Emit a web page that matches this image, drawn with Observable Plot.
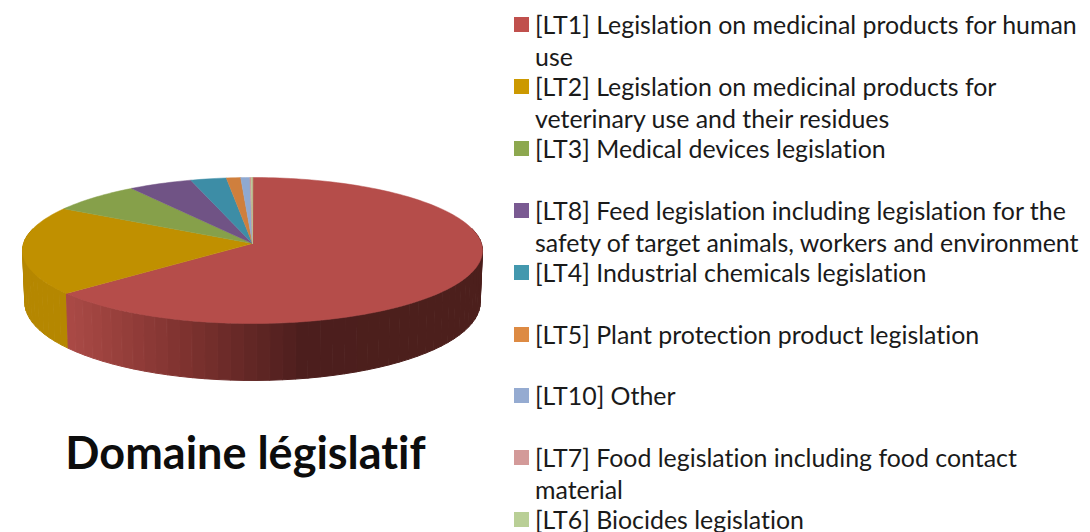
<!DOCTYPE html>
<html><head><meta charset="utf-8">
<script src="https://cdn.jsdelivr.net/npm/d3@7"></script>
<script src="https://cdn.jsdelivr.net/npm/@observablehq/plot@0.6"></script>
<style>
html,body{margin:0;padding:0;background:#fff;width:1090px;height:532px;overflow:hidden}
#page{position:relative;width:1090px;height:532px;font-family:Lato,sans-serif;color:#1a1a1a;font-variant-ligatures:none;font-feature-settings:"liga" 0}
#chart{position:absolute;left:0;top:0;filter:blur(0.6px)}
#title{position:absolute;left:0;width:491px;top:424px;text-align:center;font-size:45px;line-height:56px;font-weight:700;color:#0d0d0d}
#legend{position:absolute;left:514px;top:8.3px;width:576px}
.item{height:61.85px;position:relative;padding-left:21px;font-size:24.9px;line-height:32px;white-space:nowrap}
.item:last-child{height:24px;margin-top:3.5px;line-height:24px}
.item:last-child .sw{top:5px}
.sw{position:absolute;left:0;top:9px;width:15px;height:15px}
</style></head><body>
<div id="page"><div id="chart"></div><div id="title"></div><div id="legend"></div></div>
<script>
const categories = ["LT1","LT2","LT3","LT8","LT4","LT5","LT10","LT7","LT6"];
const shares = [63.8,19.6,6.95,4.9,2.75,1.1,0.7,0.1,0.1];
const labels = [
 ["[LT1] Legislation on medicinal products for human","use"],
 ["[LT2] Legislation on medicinal products for","veterinary use and their residues"],
 ["[LT3] Medical devices legislation"],
 ["[LT8] Feed legislation including legislation for the","safety of target animals, workers and environment"],
 ["[LT4] Industrial chemicals legislation"],
 ["[LT5] Plant protection product legislation"],
 ["[LT10] Other"],
 ["[LT7] Food legislation including food contact","material"],
 ["[LT6] Biocides legislation"]
];
const topColors = ["#b54d4a","#c09000","#86a04a","#705385","#3d8da6","#cf7f3d","#8fa9d1","#cf9190","#b5cb90"];
const legendColors = ["#c0504d","#cc9900","#8da84f","#7a5a92","#4398ae","#dd8a43","#95abd1","#d39a99","#b9cf96"];
const wallColors = {LT1:["#ab4a46","#7e322f","#4c1e1d","#4c1f1c"], LT2:["#b58700","#b58700"]};
const titleText = "Domaine législatif";

// perspective of the tilted disc
const k = -0.0959, A = 72.33/73, depth0 = 51.5/73, rimShrink = 0.99, xNorm = Math.sqrt(1-k*k);
const proj = deg => {
  const t = deg*Math.PI/180, u = Math.sin(t), v = -Math.cos(t), w = 1+k*v;
  return {x:u*xNorm/w, y:A*v/w, d:depth0/w};
};
const bounds = d3.cumsum(shares).map(c => c/d3.sum(shares)*360);
const start = i => i ? bounds[i-1] : 0;

const slices = [];
categories.forEach((c,i) => {
  slices.push({id:c,x:0,y:0,color:topColors[i]});
  const a0 = start(i), a1 = bounds[i], n = Math.max(2,Math.ceil((a1-a0)/1.5));
  d3.range(n+1).forEach(j => { const p = proj(a0+(a1-a0)*j/n); slices.push({id:c,x:p.x,y:p.y,color:topColors[i]}); });
});

const wall = [];
const addWall = (c,a0,a1) => {
  const n = Math.ceil(Math.abs(a1-a0)/3);
  d3.range(n).forEach(j => {
    const p = proj(a0+(a1-a0)*j/n), q = proj(a0+(a1-a0)*(j+1)/n);
    const stops = wallColors[c];
    const f = Math.min(1,Math.max(0,((p.x+q.x)/2+0.81)/2));
    const color = d3.piecewise(d3.interpolateRgb,stops)(Math.min(1,f*1.3));
    const id = c+j;
    [[p.x,p.y],[q.x,q.y],[q.x*rimShrink,q.y+q.d],[p.x*rimShrink,p.y+p.d]].forEach(([x,y]) => wall.push({id,x,y,color}));
  });
};
addWall("LT2",bounds[0],282);
addWall("LT1",78,bounds[0]);

const plot = Plot.plot({
  width:505, height:420, margin:0,
  x:{domain:[-1,1],range:[22,482],axis:null},
  y:{domain:[-1,1],range:[170,316],axis:null},
  color:{type:"identity"},
  marks:[
    Plot.line(wall,{x:"x",y:"y",z:"id",fill:"color",stroke:"color",strokeWidth:1,curve:"linear-closed"}),
    Plot.line(slices,{x:"x",y:"y",z:"id",fill:"color",stroke:"color",strokeWidth:0.5,curve:"linear-closed"})
  ]
});
document.getElementById("chart").append(plot);
document.getElementById("title").textContent = titleText;
const lg = d3.select("#legend").selectAll(".item").data(labels).join("div").attr("class","item");
lg.append("div").attr("class","sw").style("background",(d,i)=>legendColors[i]);
lg.append("div").html(d=>d.join("<br>"));
</script>
</body></html>
